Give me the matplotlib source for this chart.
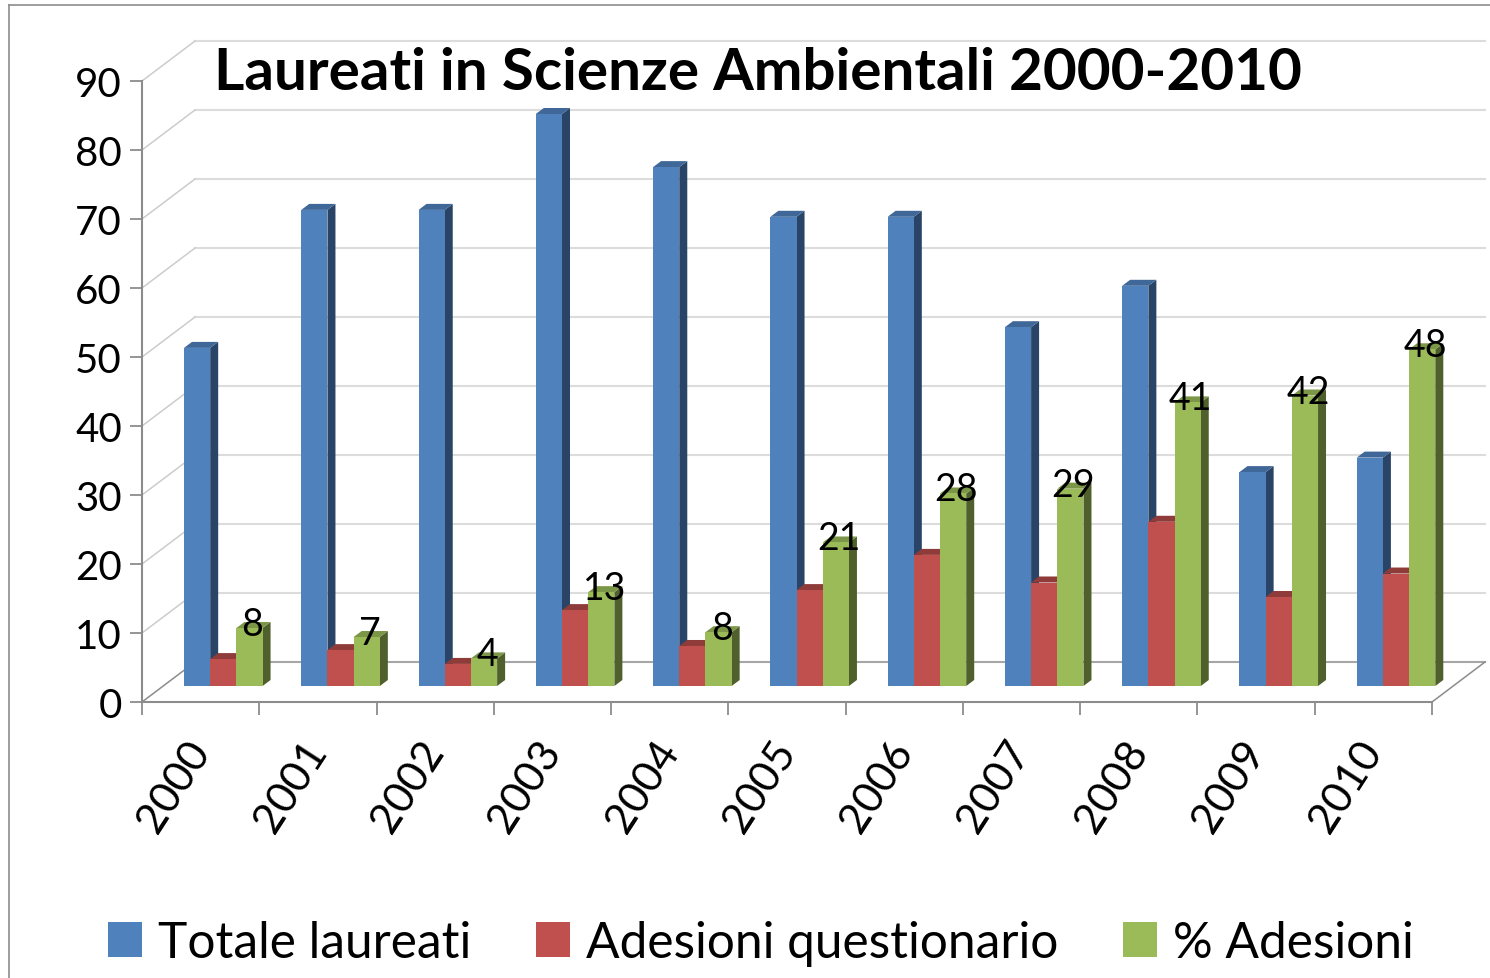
import matplotlib
matplotlib.use("Agg")
import matplotlib.pyplot as plt
from matplotlib.lines import Line2D
from matplotlib.patches import Polygon, Patch
from matplotlib.transforms import Affine2D, IdentityTransform

years = ["2000", "2001", "2002", "2003", "2004", "2005", "2006", "2007", "2008", "2009", "2010"]
totale = [49, 69, 69, 82.9, 75.2, 68, 68, 52, 58, 31, 33.1]
adesioni = [3.9, 5.2, 3.2, 11, 5.8, 13.9, 19, 15, 23.8, 12.9, 16.3]
percent = [8.4, 7.1, 4.0, 13.6, 7.8, 20.8, 27.9, 28.6, 41.1, 42.1, 48.8]
percent_labels = ["8", "7", "4", "13", "8", "21", "28", "29", "41", "42", "48"]
series_names = ["Totale laureati", "Adesioni questionario", "% Adesioni"]
yticks = list(range(0, 100, 10))

FONT = "Lato"
W, H = 1490, 979
fig = plt.figure(figsize=(W / 100, H / 100), dpi=100, facecolor="white")
ax = fig.add_axes([142 / W, 1 - 703 / H, (1432 - 142) / W, (703 - 82) / H])
ax.set_xlim(0, 11)
ax.set_ylim(0, 90)
ax.patch.set_visible(False)
for s in ["top", "right"]:
    ax.spines[s].set_visible(False)
for s in ["left", "bottom"]:
    ax.spines[s].set_color("#8c8c8c")
    ax.spines[s].set_linewidth(1.5)

ax.set_yticks(yticks)
ax.set_yticklabels([str(v) for v in yticks], fontfamily=FONT, fontsize=29)
ax.tick_params(axis="y", length=9, width=1.3, color="#8c8c8c", pad=5.5)
ax.set_xticks(range(0, 12))
ax.set_xticklabels([])
ax.tick_params(axis="x", which="major", length=9, width=1.3, color="#8c8c8c")
ax.set_xticks([i + 0.5 for i in range(11)], minor=True)
ax.set_xticklabels(years, minor=True, fontfamily=FONT, fontsize=31, rotation=57,
                   ha="right", va="center", rotation_mode="anchor")
ax.tick_params(axis="x", which="minor", length=0, pad=30)


def shift(dx, dy):
    return ax.transData + Affine2D().translate(dx, dy)


# back wall and side wall
back = shift(53, 40)
for v in yticks:
    ax.plot([0, 11], [v, v], transform=back, color="#a6a6a6" if v == 0 else "#dcdcdc",
            lw=1.5, clip_on=False, zorder=1)
    xa, ya = ax.transData.transform((0, v))
    ax.add_line(Line2D([xa, xa + 53], [ya, ya + 40], transform=IdentityTransform(), clip_on=False,
                       color="#8c8c8c" if v == 0 else "#cccccc", lw=1.1, zorder=1))
xa, ya = ax.transData.transform((11, 0))
ax.add_line(Line2D([xa, xa + 53], [ya, ya + 40], transform=IdentityTransform(), clip_on=False,
                   color="#8c8c8c", lw=1.1, zorder=1))

# bars
BAR_W = 26.2 / 117.3
LEFT_PAD = 42 / 117.3
FLOOR, DEPTH_X, DEPTH_Y = 16, 8, 6
styles = [("#4F81BD", "#3F6797", "#2A4468"),
          ("#C0504D", "#8F3B39", "#7F3331"),
          ("#9BBB59", "#7C9647", "#4F602D")]
floor = shift(0, FLOOR)
px_to_x = 11 / (1432 - 142)
px_to_y = 90 / (703 - 82)
z = 3
for i in range(11):
    for k, vals in enumerate([totale, adesioni, percent]):
        v = vals[i]
        front, top, side = styles[k]
        x0 = i + LEFT_PAD + k * BAR_W
        x1 = x0 + BAR_W
        dx = DEPTH_X * px_to_x
        dy = DEPTH_Y * px_to_y
        ax.add_patch(Polygon([(x1, 0), (x1 + dx, dy), (x1 + dx, v + dy), (x1, v)], closed=True,
                             transform=floor, fc=side, ec="none", zorder=z, clip_on=False))
        ax.add_patch(Polygon([(x0, v), (x1, v), (x1 + dx, v + dy), (x0 + dx, v + dy)], closed=True,
                             transform=floor, fc=top, ec="none", zorder=z, clip_on=False))
        ax.add_patch(Polygon([(x0, 0), (x1, 0), (x1, v), (x0, v)], closed=True,
                             transform=floor, fc=front, ec="none", zorder=z, clip_on=False))
        z += 1

for i in range(11):
    xc = i + LEFT_PAD + 2.5 * BAR_W
    ax.text(xc, percent[i], percent_labels[i], transform=shift(3, FLOOR + 4), ha="center", va="center",
            fontfamily=FONT, fontsize=27, color="black", zorder=100)

fig.text(758 / W, 1 - 73 / H, "Laureati in Scienze Ambientali 2000-2010", ha="center", va="center",
         fontfamily=FONT, fontweight="bold", fontsize=42, color="black", zorder=200)

handles = [Patch(fc=styles[k][0], ec="none", label=series_names[k]) for k in range(3)]
fs = 35.7
em = fs * 100 / 72
fig.legend(handles=handles, loc="center", bbox_to_anchor=(761 / W, 1 - 944 / H), ncol=3, frameon=False,
           prop={"family": FONT, "size": fs}, handlelength=34 / em, handleheight=35 / em,
           handletextpad=16 / em, columnspacing=65 / em, borderpad=0, borderaxespad=0)

# outer frame
fig.add_artist(Line2D([9 / W, 9 / W], [0, 1 - 6 / H], color="#8c8c8c", lw=1.2))
fig.add_artist(Line2D([9 / W, 1], [1 - 6 / H, 1 - 6 / H], color="#8c8c8c", lw=1.2))

fig.savefig("out.png", dpi=100)
